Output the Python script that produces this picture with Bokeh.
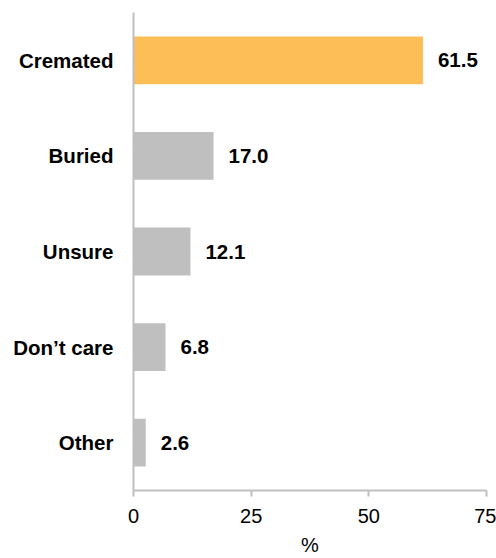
from bokeh.plotting import figure
from bokeh.models import ColumnDataSource, FactorRange, Range1d, FixedTicker
from bokeh.core.properties import value
from bokeh.embed import file_html
from bokeh.resources import INLINE

categories = ["Cremated", "Buried", "Unsure", "Don\u2019t care", "Other"]
values = [61.5, 17.0, 12.1, 6.8, 2.6]
colors = ["#FDBE58", "#BFBFBF", "#BFBFBF", "#BFBFBF", "#BFBFBF"]
x_ticks = [0, 25, 50, 75]

src = ColumnDataSource(dict(cat=categories, val=values, color=colors,
                            lbl=["%.1f" % v for v in values]))

p = figure(width=496, height=558, output_backend="svg", toolbar_location=None,
           y_range=FactorRange(*reversed(categories), range_padding=0),
           x_range=Range1d(0, 75),
           min_border_left=133, min_border_right=10, min_border_top=12, min_border_bottom=0)

p.hbar(y="cat", right="val", left=0, height=0.5, color="color", line_color=None, source=src)
p.text(x="val", y="cat", text="lbl", source=src, x_offset=15,
       text_font=value("Liberation Sans"), text_font_style="bold", text_font_size="20.5px",
       text_baseline="middle", text_align="left", text_color="#000000")

p.xgrid.visible = False
p.ygrid.visible = False
p.outline_line_color = None

ax = p.xaxis[0]
ax.ticker = FixedTicker(ticks=x_ticks)
ax.axis_line_color = "#BFBFBF"
ax.axis_line_width = 2
ax.major_tick_line_color = "#BFBFBF"
ax.major_tick_line_width = 2
ax.major_tick_out = 6
ax.major_tick_in = 0
ax.minor_tick_line_color = None
ax.major_label_text_font = "Liberation Sans"
ax.major_label_text_font_size = "20px"
ax.major_label_text_color = "#000000"
ax.major_label_standoff = 12
ax.axis_label = "%"
ax.axis_label_text_font = "Liberation Sans"
ax.axis_label_text_font_size = "20px"
ax.axis_label_text_font_style = "normal"
ax.axis_label_text_color = "#000000"
ax.axis_label_standoff = 8

ay = p.yaxis[0]
ay.axis_line_color = "#BFBFBF"
ay.axis_line_width = 2
ay.major_tick_line_color = None
ay.major_tick_out = 0
ay.major_tick_in = 0
ay.minor_tick_line_color = None
ay.major_label_text_font = "Liberation Sans"
ay.major_label_text_font_size = "20.5px"
ay.major_label_text_font_style = "bold"
ay.major_label_text_color = "#000000"
ay.major_label_standoff = 20

open("out.html", "w").write(file_html(p, INLINE))
